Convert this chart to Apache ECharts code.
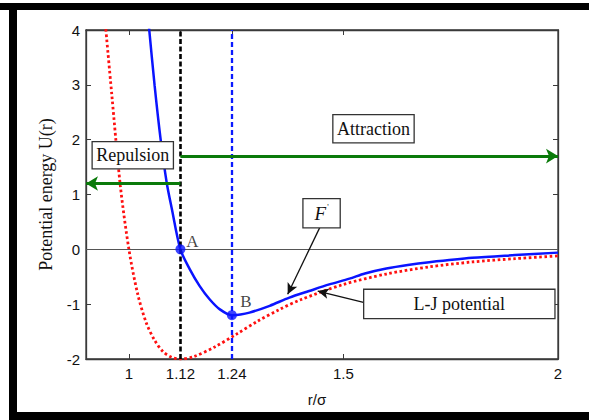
<!DOCTYPE html>
<html><head><meta charset="utf-8">
<script src="https://cdn.jsdelivr.net/npm/echarts@6/dist/echarts.min.js"></script>
<style>html,body{margin:0;padding:0;background:#fff}#c{width:589px;height:420px}</style>
</head><body><div id="c"></div>
<script>
// ---- data ----
const xMin = 0.9, xMax = 2;
const yMin = -2, yMax = 4, yStep = 1;
const xTickValues = [1, 1.12, 1.24, 1.5, 2];

// L-J potential (red dotted)
const ljR = [0.944, 0.96, 0.98, 1.0, 1.02, 1.04, 1.06, 1.08, 1.10, 1.12, 1.15, 1.2, 1.25, 1.3, 1.35, 1.4, 1.5, 1.6, 1.7, 1.8, 1.9, 2.0];
const ljU = [4.2, 2.83, 1.16, 0.0, -0.80, -1.33, -1.66, -1.87, -1.97, -2.0, -1.96, -1.78, -1.55, -1.31, -1.10, -0.92, -0.64, -0.45, -0.32, -0.23, -0.17, -0.12];

// F' curve (blue solid)
const fR = [1.045, 1.060, 1.074, 1.088, 1.100, 1.12, 1.142, 1.165, 1.188, 1.212, 1.24, 1.26, 1.281, 1.328, 1.374, 1.42, 1.467, 1.514, 1.55, 1.6, 1.65, 1.7, 1.8, 1.9, 2.0];
const fU = [4.2, 2.98, 2.0, 1.22, 0.74, 0.0, -0.365, -0.67, -0.91, -1.095, -1.2, -1.19, -1.155, -1.03, -0.88, -0.76, -0.64, -0.535, -0.44, -0.35, -0.285, -0.235, -0.155, -0.105, -0.06];

// marked points
const pointNames = ['A', 'B'];
const pointR = [1.12, 1.24];
const pointU = [0, -1.2];

// reference lines
const rMinLJ = 1.12, rMinF = 1.24;

// region arrows
const repulsionArrow = [[1.12, 1.2], [0.9, 1.2]];
const attractionArrow = [[1.12, 1.7], [2.0, 1.7]];

// text boxes: label, centre [r, U]
const boxNames = ['Repulsion', 'Attraction', 'F', 'L-J potential'];
const boxCentres = [[1.009, 1.715], [1.570, 2.20], [1.449, 0.657], [1.770, -0.995]];

// pointer arrows: from box to curve
const fPointer = [[1.445, 0.40], [1.370, -0.82]];
const ljPointer = [[1.549, -0.97], [1.440, -0.76]];

// ---- chart ----
const chart = echarts.init(document.getElementById('c'), null, {renderer: 'svg'});
const axisColor = '#3a3a3a';
const tickFont = {fontFamily: 'Liberation Sans, Arial, sans-serif', fontSize: 15, color: '#111'};
const serif = 'Liberation Serif, Times New Roman, serif';

function boxItem(i, w, h) {
  const isF = boxNames[i] === 'F';
  return {
    coord: boxCentres[i],
    symbol: 'circle',
    symbolSize: 1,
    itemStyle: {color: 'rgba(0,0,0,0)'},
    label: {
      show: true, position: 'inside',
      formatter: isF ? '{f|F}{p|\'}' : boxNames[i],
      fontFamily: serif, fontSize: 18, color: '#111',
      width: w, height: h, lineHeight: h, align: 'center', verticalAlign: 'middle',
      backgroundColor: '#fff', borderColor: '#333', borderWidth: 1.3, padding: 0,
      rich: {f: {fontFamily: serif, fontStyle: 'italic', fontSize: 19, color: '#111', lineHeight: h},
             p: {fontFamily: serif, fontSize: 8, color: '#111', lineHeight: h, padding: [0, 0, 12, 1]}}
    }
  };
}

const option = {
  animation: false,
  backgroundColor: '#fff',
  grid: {left: 86, right: 31, top: 30, bottom: 61, show: true, borderColor: axisColor, borderWidth: 1.3, backgroundColor: 'transparent'},
  xAxis: [{
    type: 'value', min: xMin, max: xMax, position: 'bottom',
    name: 'r/\u03c3', nameLocation: 'middle', nameGap: 33,
    nameTextStyle: {fontFamily: 'Liberation Sans, Arial, sans-serif', fontSize: 15, color: '#111', padding: [0, 10, 0, 0]},
    axisLine: {show: true, onZero: false, lineStyle: {color: axisColor, width: 1.3}},
    axisTick: {show: true, inside: true, length: 5, customValues: xTickValues, lineStyle: {color: axisColor}},
    axisLabel: Object.assign({margin: 7, customValues: xTickValues, formatter: v => String(v)}, tickFont),
    splitLine: {show: false}
  }, {
    type: 'value', min: xMin, max: xMax, position: 'top',
    axisLine: {show: true, onZero: false, lineStyle: {color: axisColor, width: 1.3}},
    axisTick: {show: true, inside: true, length: 5, customValues: xTickValues, lineStyle: {color: axisColor}},
    axisLabel: {show: false}, splitLine: {show: false}
  }],
  yAxis: [{
    type: 'value', min: yMin, max: yMax, interval: yStep, position: 'left',
    name: 'Potential energy U(r)', nameLocation: 'middle', nameGap: 31, nameRotate: 90,
    nameTextStyle: {fontFamily: serif, fontSize: 18, color: '#111'},
    axisLine: {show: true, onZero: false, lineStyle: {color: axisColor, width: 1.3}},
    axisTick: {show: true, inside: true, length: 5, lineStyle: {color: axisColor}},
    axisLabel: Object.assign({margin: 6}, tickFont),
    splitLine: {show: false}
  }, {
    type: 'value', min: yMin, max: yMax, interval: yStep, position: 'right',
    axisLine: {show: true, onZero: false, lineStyle: {color: axisColor, width: 1.3}},
    axisTick: {show: true, inside: true, length: 5, lineStyle: {color: axisColor}},
    axisLabel: {show: false}, splitLine: {show: false}
  }],
  series: [
    { // reference lines
      type: 'line', data: [], silent: true, z: 1,
      markLine: {
        silent: true, symbol: ['none', 'none'], animation: false,
        label: {show: false},
        data: [
          {yAxis: 0, lineStyle: {color: '#555', width: 1.2, type: 'solid'}},
          {xAxis: rMinLJ, lineStyle: {color: '#000', width: 2.6, type: [5, 2.5]}},
          {xAxis: rMinF, lineStyle: {color: '#0a1aff', width: 2.3, type: [5, 3]}}
        ]
      }
    },
    {
      name: 'L-J potential', type: 'line', z: 3,
      data: ljR.map((r, i) => [r, ljU[i]]),
      showSymbol: false, smooth: 0.3, clip: true,
      lineStyle: {color: '#ff1010', width: 2.8, type: [2.6, 2.6], cap: 'butt'}
    },
    {
      name: "F'", type: 'line', z: 4,
      data: fR.map((r, i) => [r, fU[i]]),
      showSymbol: false, smooth: 0.3, clip: true,
      lineStyle: {color: '#0a14ff', width: 2.5}
    },
    { // green region arrows
      type: 'line', data: [], silent: true, z: 5,
      markLine: {
        silent: true, symbol: ['none', 'arrow'], symbolSize: [11, 12], animation: false,
        label: {show: false},
        lineStyle: {color: '#0a7a0a', width: 3.2, type: 'solid'},
        data: [
          [{coord: repulsionArrow[0]}, {coord: repulsionArrow[1]}],
          [{coord: attractionArrow[0]}, {coord: attractionArrow[1]}]
        ]
      }
    },
    { // black pointer arrows
      type: 'line', data: [], silent: true, z: 6,
      markLine: {
        silent: true, symbol: ['none', 'arrow'], symbolSize: [8, 11], animation: false,
        label: {show: false},
        lineStyle: {color: '#111', width: 1.3, type: 'solid'},
        data: [
          [{coord: fPointer[0]}, {coord: fPointer[1]}],
          [{coord: ljPointer[0]}, {coord: ljPointer[1]}]
        ]
      }
    },
    { // text boxes
      type: 'line', data: [], silent: true, z: 7,
      markPoint: {
        silent: true, animation: false,
        data: [boxItem(0, 80, 26), boxItem(1, 80, 27), boxItem(2, 36, 28), boxItem(3, 190, 28)]
      }
    },
    { // A and B
      type: 'scatter', z: 8, symbolSize: 10,
      itemStyle: {color: '#0a14ff'},
      data: pointNames.map((n, i) => ({
        name: n, value: [pointR[i], pointU[i]],
        label: {show: true, position: 'inside', offset: i === 0 ? [12, -8] : [14, -14],
                formatter: n, fontFamily: serif, fontSize: 17, color: '#111'}
      }))
    }
  ],
  graphic: [
    {type: 'rect', shape: {x: 0, y: 3, width: 589, height: 7}, style: {fill: '#000'}, silent: true, z: 100},
    {type: 'rect', shape: {x: 9, y: 3, width: 8, height: 417}, style: {fill: '#000'}, silent: true, z: 100},
    {type: 'rect', shape: {x: 9, y: 412, width: 580, height: 8}, style: {fill: '#000'}, silent: true, z: 100}
  ]
};
chart.setOption(option);
</script>
</body></html>
